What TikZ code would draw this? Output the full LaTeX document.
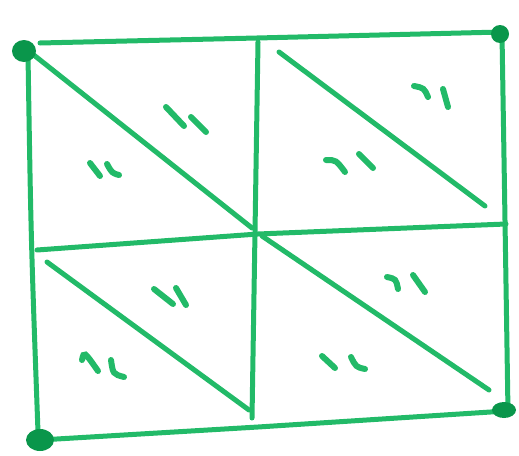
\documentclass[tikz,border=0pt]{standalone}
\usepackage{tikz}
\definecolor{pen}{RGB}{34,186,104}
\definecolor{blob}{RGB}{10,150,75}
\tikzset{
  stroke/.style={draw=pen,line width=5pt,line cap=round,line join=round},
  tick/.style={draw=pen,line width=6pt,line cap=round},
  cornerdot/.style={fill=blob}
}
\begin{document}
\begin{tikzpicture}[x=1pt,y=-1pt]
\useasboundingbox (0,0) rectangle (519,455);
% outer frame
\draw[stroke] (40,43) -- (257,38) -- (502,32);
\draw[stroke] (502,34) .. controls (505,220) .. (508,412);
\draw[stroke] (28,55) .. controls (31,240) .. (38,432);
\draw[stroke] (40,440) -- (258,427) -- (506,411);
% middle lines
\draw[stroke] (37,250) -- (258,234) -- (506,224);
\draw[stroke] (258,42) -- (255,232) -- (252,418);
% diagonals
\draw[stroke] (30,52) -- (252,228);
\draw[stroke] (279,52) -- (485,206);
\draw[stroke] (47,262) -- (249,410);
\draw[stroke] (262,236) -- (489,390);
% corner dots
\fill[cornerdot] (24,51) ellipse (12 and 11);
\fill[cornerdot] (500,34) ellipse (9 and 9);
\fill[cornerdot] (40,440) ellipse (14 and 11);
\fill[cornerdot] (504,410) ellipse (12 and 8);
% tally marks TL
\draw[tick] (166,107) -- (184,126);
\draw[tick] (191,117) -- (206,132);
\draw[tick] (90,163) -- (100,176);
\draw[tick] (107,164) .. controls (112,173) .. (119,175);
% TR
\draw[tick] (414,86) .. controls (424,88) .. (428,97);
\draw[tick] (443,89) -- (448,107);
\draw[tick] (326,160) .. controls (336,160) .. (345,172);
\draw[tick] (359,154) -- (373,168);
% BL
\draw[tick] (154,289) -- (173,304);
\draw[tick] (176,288) -- (186,305);
\draw[tick] (82,360) .. controls (84,351) .. (98,371);
\draw[tick] (111,360) .. controls (113,374) .. (124,377);
% BR
\draw[tick] (387,277) .. controls (396,279) .. (398,289);
\draw[tick] (413,275) -- (425,292);
\draw[tick] (322,356) -- (335,368);
\draw[tick] (351,357) .. controls (356,367) .. (365,369);
\end{tikzpicture}
\end{document}
